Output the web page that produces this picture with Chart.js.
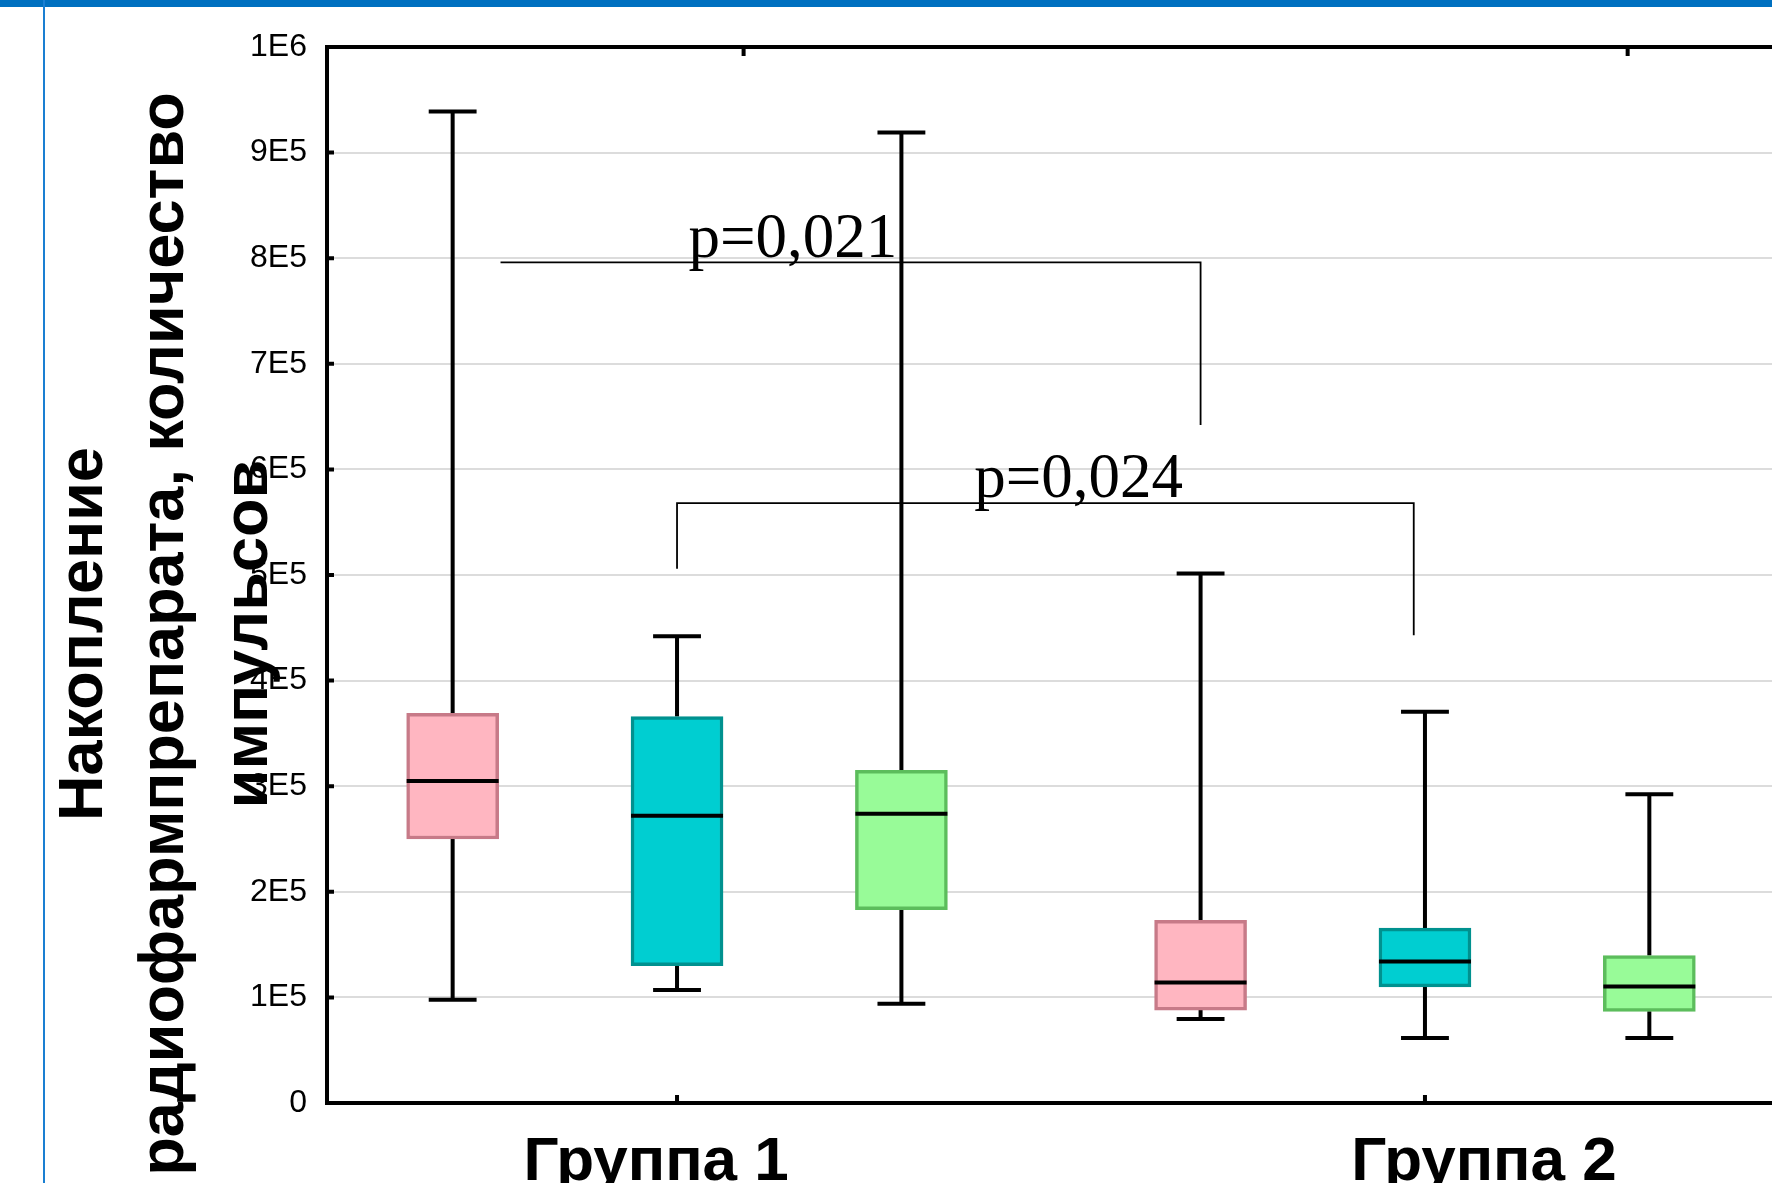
<!DOCTYPE html>
<html lang="ru">
<head>
<meta charset="UTF-8">
<title>Накопление радиофармпрепарата</title>
<script src="https://cdn.jsdelivr.net/npm/chart.js@4.4.1/dist/chart.umd.min.js"></script>
<style>
  html, body { margin: 0; padding: 0; background: #fff; overflow: hidden; }
  #quadro { position: relative; width: 1772px; height: 1183px; }
  #quadro canvas { position: absolute; left: 0; top: 0; }
  #faixa-topo { position: absolute; left: 0; top: 0; width: 1772px; height: 7px; background: #0070c0; }
  #linha-esquerda { position: absolute; left: 43px; top: 0; width: 2px; height: 1183px; background: #1a7fd2; }
</style>
</head>
<body>
<div id="quadro">
  <canvas id="grafico-boxplot" width="1772" height="1183"></canvas>
  <div id="faixa-topo"></div>
  <div id="linha-esquerda"></div>
</div>
<script>
// dados (por grupo: [rosa, turquesa, verde])
const grupos = ["Группа 1", "Группа 2"];
const series = ["1", "2", "3"];
const maximos = [[939000, 442000, 919000], [501500, 370600, 292400]];
const quartil3 = [[369000, 366000, 315000], [173000, 165600, 139700]];
const medianas = [[305000, 272000, 274000], [114000, 134000, 110400]];
const quartil1 = [[250000, 130000, 183000], [88000, 110000, 86800]];
const minimos = [[97800, 107000, 94000], [79500, 61600, 61600]];

const ticksY = [0, 100000, 200000, 300000, 400000, 500000, 600000, 700000, 800000, 900000, 1000000];
const rotulosY = ["0", "1E5", "2E5", "3E5", "4E5", "5E5", "6E5", "7E5", "8E5", "9E5", "1E6"];

const textosP = ["p=0,021", "p=0,024"];
const posicoesP = [[1.155, 801000], [1.537, 574000]];
const colchetes = [
  [[0.764, 796000], [1.7, 796000], [1.7, 642000]],
  [[1.0, 506000], [1.0, 568000], [1.985, 568000], [1.985, 443000]]
];

const tituloY = ["Накопление", "радиофармпрепарата, количество", "импульсов"];

document.addEventListener("DOMContentLoaded", () => {
  const preenchimentos = ["#ffb6c1", "#00ced1", "#98fb98"];
  const bordas = ["#c77a88", "#00918f", "#5cbd5c"];
  const deslocamentos = [-0.3, 0, 0.3];
  const meiaCaixa = 0.0615;
  const meiaHaste = 0.032;
  const posicaoRotulosX = [0.972, 2.079];
  const ticksTopo = [1.089, 2.271];

  const posicaoX = (g, s) => g + 1 + deslocamentos[s];

  function segmentos(lista) {
    const pontos = [];
    lista.forEach(([x1, y1, x2, y2]) => {
      pontos.push({ x: x1, y: y1 }, { x: x2, y: y2 }, { x: x2, y: null });
    });
    return pontos;
  }

  const bigodes = [];
  const hastes = [];
  const linhasMediana = [];
  grupos.forEach((_, g) => {
    series.forEach((_, s) => {
      const x = posicaoX(g, s);
      bigodes.push([x, quartil3[g][s], x, maximos[g][s]], [x, quartil1[g][s], x, minimos[g][s]]);
      hastes.push([x - meiaHaste, maximos[g][s], x + meiaHaste, maximos[g][s]]);
      hastes.push([x - meiaHaste, minimos[g][s], x + meiaHaste, minimos[g][s]]);
      linhasMediana.push([x - meiaCaixa, medianas[g][s], x + meiaCaixa, medianas[g][s]]);
    });
  });

  const pontosColchetes = [];
  colchetes.forEach(c => {
    c.forEach(([x, y]) => pontosColchetes.push({ x, y }));
    pontosColchetes.push({ x: c[c.length - 1][0], y: null });
  });

  const caixas = series.map((nome, s) => ({
    type: "bar",
    label: nome,
    data: grupos.map((_, g) => ({ x: posicaoX(g, s), y: [quartil1[g][s], quartil3[g][s]] })),
    backgroundColor: preenchimentos[s],
    borderColor: bordas[s],
    borderWidth: 3.5,
    borderSkipped: false,
    barThickness: 92,
    grouped: false,
    order: 1
  }));

  const linha = (dados, largura, ordem) => ({
    type: "line",
    data: dados,
    borderColor: "#000",
    borderWidth: largura,
    pointRadius: 0,
    spanGaps: false,
    fill: false,
    order: ordem
  });

  const decoracao = {
    id: "decoracao",
    afterDraw(chart) {
      const { ctx, chartArea } = chart;
      const escX = chart.scales.x;
      const escY = chart.scales.y;
      ctx.save();

      // borda superior e marcas internas
      ctx.strokeStyle = "#000";
      ctx.lineWidth = 4;
      ctx.beginPath();
      ctx.moveTo(chartArea.left - 2, chartArea.top);
      ctx.lineTo(chartArea.right, chartArea.top);
      ticksY.forEach(v => {
        const y = escY.getPixelForValue(v);
        ctx.moveTo(chartArea.left, y);
        ctx.lineTo(chartArea.left + 7, y);
      });
      grupos.forEach((_, g) => {
        const x = escX.getPixelForValue(g + 1);
        ctx.moveTo(x, chartArea.bottom);
        ctx.lineTo(x, chartArea.bottom - 8);
      });
      ticksTopo.forEach(v => {
        const x = escX.getPixelForValue(v);
        ctx.moveTo(x, chartArea.top);
        ctx.lineTo(x, chartArea.top + 9);
      });
      ctx.stroke();

      ctx.fillStyle = "#000";

      // valores de p
      ctx.font = "63px 'Liberation Serif', 'Times New Roman', serif";
      ctx.textAlign = "center";
      ctx.textBaseline = "alphabetic";
      textosP.forEach((t, i) => {
        ctx.fillText(t, escX.getPixelForValue(posicoesP[i][0]), escY.getPixelForValue(posicoesP[i][1]));
      });

      // nomes dos grupos
      ctx.font = "bold 62px 'Liberation Sans', Arial, sans-serif";
      grupos.forEach((nome, g) => {
        ctx.fillText(nome, escX.getPixelForValue(posicaoRotulosX[g]), 1180);
      });

      // titulo do eixo Y
      ctx.font = "bold 63px 'Liberation Sans', Arial, sans-serif";
      const bases = [102, 183, 267];
      tituloY.forEach((t, i) => {
        ctx.save();
        ctx.translate(bases[i], 634);
        ctx.rotate(-Math.PI / 2);
        ctx.fillText(t, 0, 0);
        ctx.restore();
      });
      ctx.restore();
    }
  };

  new Chart(document.getElementById("grafico-boxplot"), {
    type: "bar",
    data: {
      datasets: [
        ...caixas,
        linha(segmentos(bigodes), 4, 2),
        linha(segmentos(hastes), 4, 2),
        linha(segmentos(linhasMediana), 4, 0),
        linha(pontosColchetes, 1.8, 3)
      ]
    },
    options: {
      responsive: false,
      animation: false,
      layout: { padding: { left: 0, top: 47, right: 0, bottom: 80 } },
      plugins: {
        legend: { display: false },
        tooltip: { enabled: false }
      },
      scales: {
        x: {
          type: "linear",
          min: 0.532,
          max: 2.464,
          offset: false,
          grid: { display: false, drawTicks: false, offset: false },
          ticks: { display: false },
          border: { display: true, color: "#000", width: 4 }
        },
        y: {
          min: 0,
          max: 1000000,
          afterBuildTicks: escala => { escala.ticks = ticksY.map(v => ({ value: v })); },
          afterFit: escala => { escala.width = 327; },
          ticks: {
            callback: (valor, i) => rotulosY[i],
            color: "#000",
            padding: 20,
            font: { family: "'Liberation Sans', Arial, sans-serif", size: 32 }
          },
          grid: { color: "#dcdcdc", lineWidth: 2, drawTicks: false },
          border: { color: "#000", width: 4 }
        }
      }
    },
    plugins: [decoracao]
  });
});
</script>
</body>
</html>
